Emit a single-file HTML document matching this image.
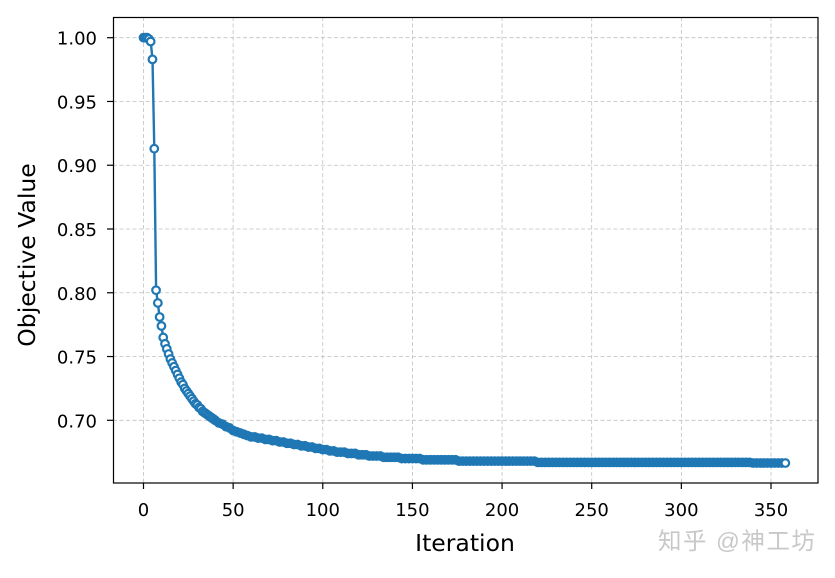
<!DOCTYPE html>
<html><head><meta charset="utf-8"><style>
body{margin:0;background:#fff;width:835px;height:573px;overflow:hidden}
svg text{font-family:"DejaVu Sans","Liberation Sans",sans-serif}
</style></head><body>
<svg id="chart" width="835" height="573" xmlns="http://www.w3.org/2000/svg">
<g id="grid"></g>
<g id="axes"></g>
<g id="series"></g>
<rect x="113.5" y="17.5" width="704.5" height="465.5" fill="none" stroke="#000" stroke-width="1.2"/>
<text x="465" y="551" font-size="23.5" text-anchor="middle">Iteration</text>
<text x="35" y="255" font-size="23.5" text-anchor="middle" transform="rotate(-90 35 255)">Objective Value</text>
<text x="658" y="549" font-size="23.5" letter-spacing="1.5" fill="#c8c8c8" style="font-family:'Liberation Sans','Noto Sans CJK SC',sans-serif">知乎 @神工坊</text>
</svg>
<script>
const xTicks=[0,50,100,150,200,250,300,350];
const yTicks=[0.70,0.75,0.80,0.85,0.90,0.95,1.00];
const yTickLabels=["0.70","0.75","0.80","0.85","0.90","0.95","1.00"];
const iterations=[0,1,2,3,4,5,6,7,8,9,10,11,12,13,14,15,16,17,18,19,20,21,22,23,24,25,26,27,28,29,30,31,32,33,34,35,36,37,38,39,40,
42,44,46,48,50,52,54,56,58,60,62,64,66,68,70,72,74,76,78,80,82,84,86,88,90,92,94,96,98,100,102,104,106,108,110,112,114,116,118,120,122,124,126,128,130,132,134,136,138,140,142,144,146,148,150,152,154,156,158,160,
162,164,166,168,170,172,174,176,178,180,182,184,186,188,190,192,194,196,198,
200,202,204,206,208,210,212,214,216,218,220,222,224,226,228,230,232,234,236,238,240,242,244,246,248,250,252,254,256,258,260,262,264,266,268,270,272,274,276,278,280,282,284,286,288,290,292,294,296,298,300,302,304,306,308,310,312,314,316,318,320,322,324,326,328,330,332,334,336,338,340,342,344,346,348,350,352,354,356,358];
const objective=[1.000,1.000,1.000,0.999,0.997,0.983,0.913,0.802,0.792,0.781,0.774,0.765,0.760,0.756,0.752,0.748,0.745,0.742,0.739,0.736,0.733,0.730,0.728,0.725,0.723,0.721,0.719,0.717,0.715,0.713,0.712,0.710,0.709,0.707,0.706,0.705,0.704,0.703,0.702,0.701,0.700,
0.698,0.697,0.695,0.694,0.692,0.691,0.690,0.689,0.688,0.687,0.687,0.686,0.686,0.685,0.685,0.684,0.684,0.683,0.683,0.682,0.682,0.681,0.681,0.680,0.680,0.679,0.679,0.678,0.678,0.677,0.677,0.676,0.676,0.675,0.675,0.675,0.674,0.674,0.674,0.673,0.673,0.673,0.672,0.672,0.672,0.672,0.671,0.671,0.671,0.671,0.671,0.670,0.670,0.670,0.670,0.670,0.670,0.669,0.669,0.669,
0.669,0.669,0.669,0.669,0.669,0.669,0.669,0.668,0.668,0.668,0.668,0.668,0.668,0.668,0.668,0.668,0.668,0.668,0.668,
0.668,0.668,0.668,0.668,0.668,0.668,0.668,0.668,0.668,0.668,0.667,0.667,0.667,0.667,0.667,0.667,0.667,0.667,0.667,0.667,0.667,0.667,0.667,0.667,0.667,0.667,0.667,0.667,0.667,0.667,0.667,0.667,0.667,0.667,0.667,0.667,0.667,0.667,0.667,0.667,0.667,0.667,0.667,0.667,0.667,0.667,0.667,0.667,0.667,0.667,0.667,0.667,0.667,0.667,0.667,0.667,0.667,0.667,0.667,0.667,0.667,0.667,0.667,0.667,0.667,0.667,0.667,0.667,0.667,0.667,0.6665,0.6665,0.6665,0.6665,0.6665,0.6665,0.6665,0.6665,0.6665,0.6665];
const NS="http://www.w3.org/2000/svg";
const X=v=>143.5+v*(771-143.5)/350;
const Y=v=>420.3-(v-0.70)*(420.3-37.7)/0.30;
function mk(tag,at,parent){const e=document.createElementNS(NS,tag);for(const k in at)e.setAttribute(k,at[k]);parent.appendChild(e);return e;}
const grid=document.getElementById('grid'),axes=document.getElementById('axes'),ser=document.getElementById('series');
xTicks.forEach(t=>{
 const g=mk('line',{x1:X(t),x2:X(t),y1:17,y2:483,stroke:'#c0c0c0','stroke-width':0.8,'stroke-dasharray':'4 2.5'},grid);
 
 
 const tk=mk('line',{x1:X(t),x2:X(t),y1:483,y2:489,stroke:'#000','stroke-width':1.2},axes);
 
 
 const tx=mk('text',{x:X(t),y:516,'font-size':18,'text-anchor':'middle'},axes);tx.textContent=t;
 
 
});
yTicks.forEach((t,i)=>{
 const g=mk('line',{x1:113,x2:818,y1:Y(t),y2:Y(t),stroke:'#c0c0c0','stroke-width':0.8,'stroke-dasharray':'4 2.5'},grid);
 
 
 const tk=mk('line',{x1:107,x2:113,y1:Y(t),y2:Y(t),stroke:'#000','stroke-width':1.2},axes);
 
 
 const tx=mk('text',{x:97,y:Y(t)+7,'font-size':18,'text-anchor':'end'},axes);tx.textContent=yTickLabels[i];
 
 
});
const d=iterations.map((it,i)=>(i?'L':'M')+X(it).toFixed(1)+' '+Y(objective[i]).toFixed(1)).join(' ');
const line=mk('path',{d:d,fill:'none',stroke:'#1f77b4','stroke-width':2.4},ser);


iterations.forEach((it,i)=>{
 const last=i===iterations.length-1;
 const solid=it>=40 && !last;
 const c=mk('circle',{cx:X(it),cy:Y(objective[i]),r:3.8,fill:solid?'#1f77b4':'#fff',stroke:'#1f77b4','stroke-width':2.2},ser);
 
 
});
</script>
</body></html>
